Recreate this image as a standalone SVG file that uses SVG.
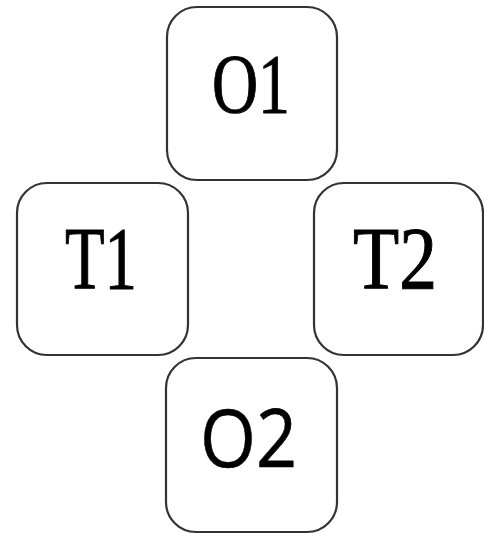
<svg xmlns="http://www.w3.org/2000/svg" width="484" height="534" viewBox="0 0 484 534">
  <style>
    .box { fill: #ffffff; stroke: #333333; stroke-width: 2.2; }
    .serif { font-family: "Liberation Serif", "DejaVu Serif", serif; fill: #000000; stroke: #000000; stroke-width: 1; }
    .sans { font-family: "Open Sans", "Liberation Sans", sans-serif; fill: #000000; stroke: #000000; stroke-width: 0.6; }
  </style>
  <rect width="484" height="534" fill="#ffffff"/>
  <g id="O1">
    <rect class="box" x="167" y="7" width="170" height="173" rx="30" ry="30"/>
    <text class="serif" x="212" y="113" font-size="84" textLength="78" lengthAdjust="spacingAndGlyphs">O1</text>
  </g>
  <g id="T1">
    <rect class="box" x="17" y="183" width="171" height="172" rx="30" ry="30"/>
    <text class="serif" x="65" y="288" font-size="88" textLength="72" lengthAdjust="spacingAndGlyphs">T1</text>
  </g>
  <g id="T2">
    <rect class="box" x="314" y="183" width="169" height="172" rx="30" ry="30"/>
    <text class="serif" x="353" y="288" font-size="88" textLength="84" lengthAdjust="spacingAndGlyphs">T2</text>
  </g>
  <g id="O2">
    <rect class="box" x="166" y="358" width="171" height="174" rx="30" ry="30"/>
    <text class="sans" x="200" y="467" font-size="80" textLength="97" lengthAdjust="spacingAndGlyphs">O2</text>
  </g>
  <g id="connectors"/>
</svg>
